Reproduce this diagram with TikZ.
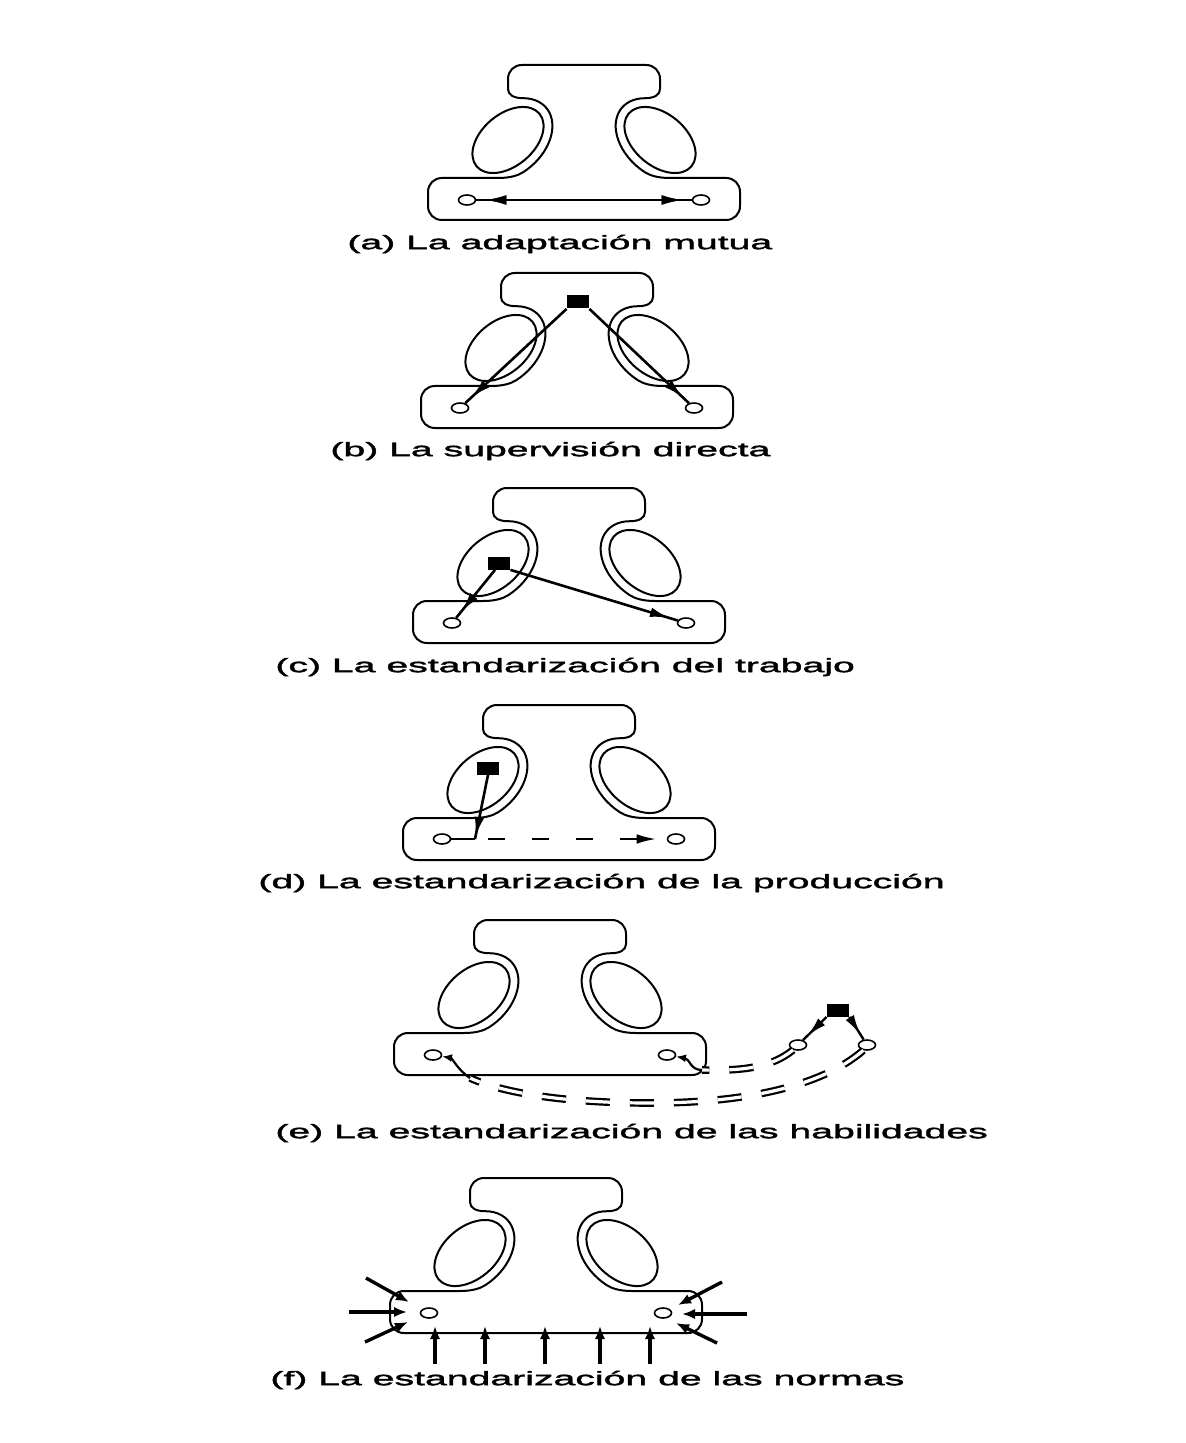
\documentclass[tikz,border=0pt]{standalone}
\usepackage{fontspec}
\newfontfamily\capfont[FakeStretch=2.01,FakeBold=2]{Liberation Sans}
\usetikzlibrary{arrows.meta,decorations.markings,shapes.geometric}

\tikzset{
  rim/.style={line width=1pt, line join=round},
  unit/.style={draw, ellipse, line width=0.8pt, fill=white,
    minimum width=8.5pt, minimum height=5pt, inner sep=0pt},
  boss/.style={rectangle, fill=black, minimum width=11pt,
    minimum height=6.5pt, inner sep=0pt},
  thinlink/.style={line width=0.9pt},
  link/.style={line width=1.3pt},
  tipat/.style={postaction={decorate}, decoration={markings,
    mark=at position #1 with {\arrow{Latex[length=10pt,width=4.8pt]}}}},
  tipback/.style={postaction={decorate}, decoration={markings,
    mark=at position #1 with {\arrowreversed{Latex[length=10pt,width=4.8pt]}}}},
  skill/.style={double, line width=1.1pt, double distance=1.6pt,
    dash pattern=on 12pt off 10pt},
  curl/.style={line width=1.1pt, -{Latex[length=5pt,width=4pt]}},
  push/.style={line width=1.7pt, -{Latex[length=6.5pt,width=5.2pt]}},
  caption/.style={anchor=west, inner sep=0pt,
    font=\capfont\fontsize{9.75pt}{11pt}\selectfont},
  % the five-part organisation outline, origin at the middle of the top edge;
  % the neck follows the two staff ellipses at a constant distance
  org/.pic={
    \draw[rim]
      (0,0) -- (62,0) .. controls (70,0) and (76,6) .. (76,14) -- (76,24)
      .. controls (76,30) and (70,33.2) .. (61.2,33.2)
      {[rotate=-40] arc[start angle=140, end angle=280,
                        x radius=25pt, y radius=17.5pt]}
      .. controls (66,110.6) and (74,113) .. (86,113)
      -- (142,113) .. controls (150,113) and (156,119) .. (156,127)
      -- (156,141) .. controls (156,149) and (150,155) .. (142,155)
      -- (-142,155) .. controls (-150,155) and (-156,149) .. (-156,141)
      -- (-156,127) .. controls (-156,119) and (-150,113) .. (-142,113)
      -- (-86,113) .. controls (-74,113) and (-66,110.6) .. (-60.5,107)
      {[rotate=40] arc[start angle=-100, end angle=40,
                       x radius=25pt, y radius=17.5pt]}
      .. controls (-70,33.2) and (-76,30) .. (-76,24)
      -- (-76,14) .. controls (-76,6) and (-70,0) .. (-62,0) -- cycle;
    \draw[rim, rotate around={40:(-76,75)}] (-76,75)
      ellipse [x radius=20.5pt, y radius=13pt];
    \draw[rim, rotate around={-40:(76,75)}] (76,75)
      ellipse [x radius=20.5pt, y radius=13pt];
  }
}

\begin{document}
\begin{tikzpicture}[x=0.5pt, y=-0.5pt]
\fill[white] (0,0) rectangle (1185,1443);
\useasboundingbox (0,0) rectangle (1185,1443);

% (a) mutual adjustment
\begin{scope}[shift={(584,65)}]
  \pic {org};
  \node[unit] (a1) at (-117,135) {};
  \node[unit] (a2) at (117,135) {};
  \draw[thinlink, tipat=-5pt, tipback=5pt] (a1) -- (a2);
\end{scope}
\node[caption] (capa) at (347,244) {(a) La adaptación mutua};

% (b) direct supervision
\begin{scope}[shift={(577,273)}]
  \pic {org};
  \node[boss] (b0) at (1,29) {};
  \node[unit] (b1) at (-117,135) {};
  \node[unit] (b2) at (117,135) {};
  \draw[link, tipat=-4pt] (b0.south west) -- (b1);
  \draw[link, tipat=-4pt] (b0.south east) -- (b2);
\end{scope}
\node[caption] (capb) at (330,451) {(b) La supervisión directa};

% (c) standardisation of work processes
\begin{scope}[shift={(569,488)}]
  \pic {org};
  \node[boss] (c0) at (-70,75) {};
  \node[unit] (c1) at (-117,135) {};
  \node[unit] (c2) at (117,135) {};
  \draw[link, tipat=-4pt] (c0.-120) -- (c1);
  \draw[link, tipat=-4pt] (c0.south east) -- (c2);
\end{scope}
\node[caption] (capc) at (275,667) {(c) La estandarización del trabajo};

% (d) standardisation of outputs
\begin{scope}[shift={(559,705)}]
  \pic {org};
  \node[boss] (d0) at (-71,63) {};
  \node[unit] (d1) at (-117,134) {};
  \node[unit] (d2) at (117,134) {};
  \coordinate (dj) at (-84,134);
  \draw[link] (d1) -- (dj);
  \draw[link, tipat=-1pt] (d0.south) -- (dj);
  \draw[link, dash pattern=on 8.5pt off 13.5pt, dash phase=15.5pt,
        -{Latex[length=10pt,width=4.8pt]}, shorten >=5pt] (dj) -- (d2);
\end{scope}
\node[caption] (capd) at (258,883) {(d) La estandarización de la producción};

% (e) standardisation of skills
\begin{scope}[shift={(550,920)}]
  \pic {org};
  \node[boss] (e0) at (288,90) {};
  \node[unit] (e1) at (-117,135) {};
  \node[unit] (e2) at (117,135) {};
  \node[unit] (e3) at (248,125) {};
  \node[unit] (e4) at (317,125) {};
  \draw[link, line width=1.2pt, tipat=-3pt] (e0.south west) -- (e3);
  \draw[link, line width=1.2pt, tipat=-3pt] (e0.south east) -- (e4);
  \coordinate (ek1) at (152,150);
  \coordinate (ek2) at (-80,158);
  \draw[skill] (e3.225) .. controls (222,147) and (195,151) .. (ek1);
  \draw[curl] (ek1) .. controls (140,150) and (140,139) .. (e2);
  \draw[skill] (e4.235) .. controls (270,168) and (190,183) .. (100,183)
    .. controls (30,183) and (-40,176) .. (ek2);
  \draw[curl] (ek2) .. controls (-92,150) and (-98,138) .. (e1);
\end{scope}
\node[caption] (cape) at (275,1133) {(e) La estandarización de las habilidades};

% (f) standardisation of norms
\begin{scope}[shift={(546,1178)}]
  \pic {org};
  \node[unit] (f1) at (-117,135) {};
  \node[unit] (f2) at (117,135) {};
  \foreach \i/\x in {1/-111,2/-61,3/-1,4/54,5/104}{
    \coordinate (fb\i) at (\x,186);
    \coordinate (ft\i) at (\x,148);
    \draw[push] (fb\i) -- (ft\i);
  }
  \coordinate (fl1) at (-180,100); \coordinate (fl1e) at (-137,124);
  \coordinate (fl2) at (-197,134); \coordinate (fl2e) at (-139,134);
  \coordinate (fl3) at (-181,164); \coordinate (fl3e) at (-138,144);
  \coordinate (fr1) at (176,104);  \coordinate (fr1e) at (132,127);
  \coordinate (fr2) at (201,136);  \coordinate (fr2e) at (136,136);
  \coordinate (fr3) at (171,165);  \coordinate (fr3e) at (130,145);
  \foreach \p in {fl1,fl2,fl3,fr1,fr2,fr3}{
    \draw[push] (\p) -- (\p e);
  }
\end{scope}
\node[caption] (capf) at (270,1380) {(f) La estandarización de las normas};
\end{tikzpicture}
\end{document}
